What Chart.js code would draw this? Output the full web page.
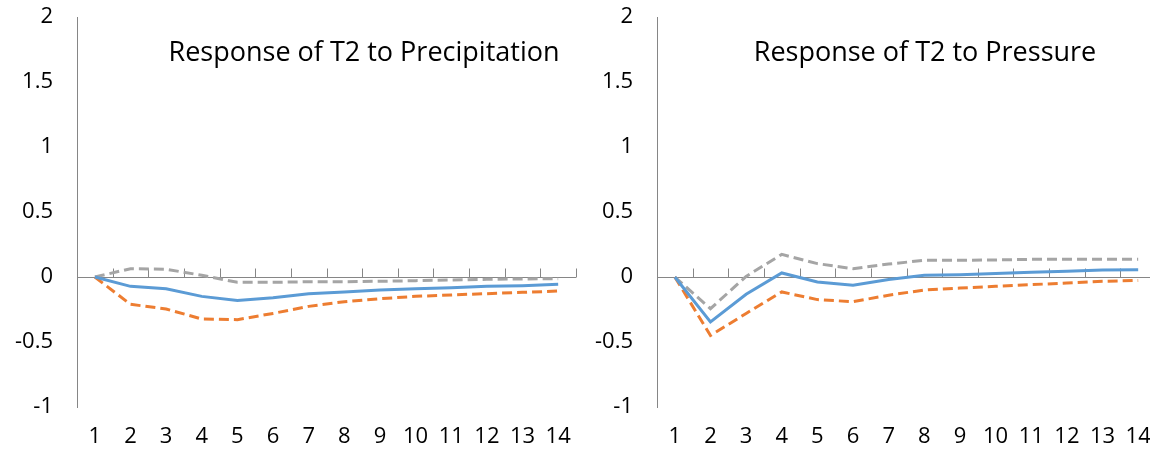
<!DOCTYPE html>
<html>
<head>
<meta charset="utf-8">
<script src="https://cdn.jsdelivr.net/npm/chart.js@4.4.0/dist/chart.umd.min.js"></script>
<style>
  html, body { margin: 0; padding: 0; background: #fff; overflow: hidden; }
  body { width: 1150px; height: 452px; position: relative; }
  .panel { position: absolute; top: 0; width: 580px; height: 452px; }
  #left { left: 0; }
  #right { left: 580px; }
</style>
</head>
<body>
<div class="panel" id="left"><canvas id="precip"></canvas></div>
<div class="panel" id="right"><canvas id="press"></canvas></div>
<script>
var periods = ['1','2','3','4','5','6','7','8','9','10','11','12','13','14'];

var precipResp  = [0, -0.072, -0.09, -0.149, -0.18, -0.16, -0.128, -0.115, -0.10, -0.09, -0.082, -0.072, -0.067, -0.056];
var precipLower = [0, -0.21, -0.246, -0.323, -0.328, -0.28, -0.226, -0.19, -0.167, -0.149, -0.138, -0.128, -0.118, -0.108];
var precipUpper = [0, 0.064, 0.06, 0.013, -0.041, -0.041, -0.036, -0.036, -0.033, -0.028, -0.023, -0.018, -0.015, -0.013];

var pressResp  = [0, -0.346, -0.133, 0.031, -0.038, -0.064, -0.02, 0.013, 0.018, 0.026, 0.036, 0.044, 0.054, 0.056];
var pressLower = [0, -0.45, -0.28, -0.115, -0.174, -0.19, -0.14, -0.10, -0.085, -0.072, -0.059, -0.046, -0.033, -0.026];
var pressUpper = [0, -0.244, 0.005, 0.174, 0.103, 0.064, 0.10, 0.128, 0.128, 0.131, 0.136, 0.136, 0.136, 0.136];

var yTicks = [2, 1.5, 1, 0.5, 0, -0.5, -1];

var FONT = '"Open Sans", Lato, sans-serif';
var AXIS_GREY = '#868686';

// zero line with small upward ticks between categories (Excel style) + overlay title
var zeroAxis = {
  id: 'zeroAxis',
  beforeDatasetsDraw: function(chart) {
    var ctx = chart.ctx, x = chart.scales.x, y = chart.scales.y;
    var y0 = Math.round(y.getPixelForValue(0)) + 0.5;
    var area = chart.chartArea;
    ctx.save();
    ctx.strokeStyle = AXIS_GREY;
    ctx.lineWidth = 1;
    ctx.beginPath();
    ctx.moveTo(area.left, y0);
    ctx.lineTo(area.right, y0);
    for (var i = 1; i <= periods.length; i++) {
      var px = Math.round(x.getPixelForValue(i - 0.5)) + 0.5;
      ctx.moveTo(px, y0);
      ctx.lineTo(px, y0 - 9);
    }
    ctx.stroke();
    ctx.restore();
  },
  afterDraw: function(chart) {
    var o = chart.options.plugins.zeroAxis;
    if (!o || !o.text) return;
    var ctx = chart.ctx;
    ctx.save();
    ctx.font = '27px ' + FONT;
    ctx.fillStyle = '#000';
    ctx.textAlign = 'center';
    ctx.textBaseline = 'alphabetic';
    ctx.fillText(o.text, o.cx, 61);
    ctx.restore();
  }
};

function irfChart(id, resp, lower, upper, title, titleX) {
  var ctx = document.getElementById(id).getContext('2d');
  return new Chart(ctx, {
    type: 'line',
    data: {
      labels: periods,
      datasets: [{
        label: 'Response',
        data: resp,
        borderColor: '#5B9BD5',
        borderWidth: 3,
        pointRadius: 0,
        fill: false
      }, {
        label: 'Lower',
        data: lower,
        borderColor: '#ED7D31',
        borderWidth: 3,
        borderDash: [10, 5],
        pointRadius: 0,
        fill: false
      }, {
        label: 'Upper',
        data: upper,
        borderColor: '#A5A5A5',
        borderWidth: 3,
        borderDash: [10, 5],
        pointRadius: 0,
        fill: false
      }]
    },
    options: {
      responsive: false,
      animation: false,
      layout: { padding: { top: 17, right: 4, left: 0, bottom: 0 } },
      plugins: {
        legend: { display: false },
        tooltip: { enabled: false },
        zeroAxis: { text: title, cx: titleX }
      },
      scales: {
        x: {
          offset: true,
          grid: { display: false, drawTicks: false },
          border: { display: false },
          ticks: { color: '#000', font: { family: FONT, size: 22 }, padding: 17, maxRotation: 0, autoSkip: false },
          afterFit: function(s) { s.height = 45; s.paddingLeft = 0; s.paddingRight = 0; }
        },
        y: {
          min: -1,
          max: 2,
          afterBuildTicks: function(s) { s.ticks = yTicks.map(function(v) { return { value: v }; }); },
          grid: { display: false, drawTicks: false },
          border: { display: true, color: AXIS_GREY, width: 1 },
          ticks: {
            color: '#000', font: { family: FONT, size: 22 }, padding: 24,
            callback: function(v) { return String(v); }
          },
          afterFit: function(s) { s.width = 77; s.paddingTop = 0; s.paddingBottom = 0; }
        }
      }
    },
    plugins: [zeroAxis]
  });
}

document.getElementById('precip').width = 580;
document.getElementById('precip').height = 452;
document.getElementById('press').width = 580;
document.getElementById('press').height = 452;

irfChart('precip', precipResp, precipLower, precipUpper, 'Response of T2 to Precipitation', 364);
irfChart('press', pressResp, pressLower, pressUpper, 'Response of T2 to Pressure', 345);
</script>
</body>
</html>
